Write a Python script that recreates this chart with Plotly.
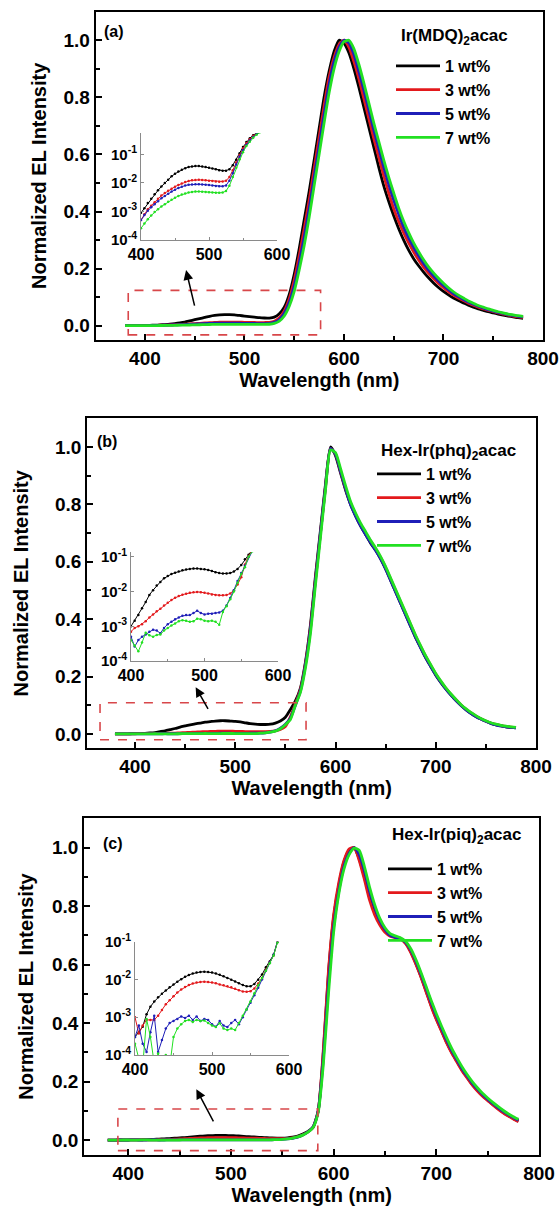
import plotly.graph_objects as go

# ---------------- data (wavelength grid, nm) ----------------
W = [380, 385, 390, 395, 400, 405, 410, 415, 420, 425, 430, 435, 440, 445, 450, 455,
     460, 465, 470, 475, 480, 485, 490, 495, 500, 505, 510, 515, 520, 525, 530, 535,
     540, 545, 550, 555, 560, 565, 570, 575, 580, 585, 590, 595, 600, 605, 610, 615,
     620, 625, 630, 635, 640, 645, 650, 655, 660, 665, 670, 675, 680, 685, 690, 695,
     700, 705, 710, 715, 720, 725, 730, 735, 740, 745, 750, 755, 760, 765, 770, 775, 780]

SERIES_NAMES = ["1 wt%", "3 wt%", "5 wt%", "7 wt%"]

# (a) Ir(MDQ)2acac
A_black = [2.0e-4, 3.0e-4, 4.5e-4, 6.5e-4,
           9.0e-4, 1.3e-3, 2.0e-3, 2.8e-3, 4.0e-3, 5.5e-3, 7.5e-3, 0.010,
           0.013, 0.017, 0.021, 0.025, 0.029, 0.033, 0.036, 0.038,
           0.039, 0.039, 0.038, 0.036, 0.034, 0.032, 0.030, 0.028,
           0.027, 0.027, 0.030, 0.042, 0.065, 0.11, 0.18, 0.27,
           0.37, 0.47, 0.58, 0.69, 0.80, 0.89, 0.96, 1.00,
           0.99, 0.955, 0.90, 0.835, 0.765, 0.695, 0.625, 0.555,
           0.49, 0.435, 0.385, 0.34, 0.30, 0.265, 0.235, 0.21,
           0.188, 0.168, 0.150, 0.134, 0.120, 0.108, 0.097, 0.088,
           0.080, 0.072, 0.065, 0.059, 0.054, 0.049, 0.045, 0.041,
           0.037, 0.034, 0.031, 0.028, 0.026]
A_red = [1.0e-4, 1.5e-4, 2.2e-4, 3.3e-4,
         5.0e-4, 8.0e-4, 1.2e-3, 1.6e-3, 2.1e-3, 2.8e-3, 3.6e-3, 4.4e-3,
         5.3e-3, 6.3e-3, 7.4e-3, 8.5e-3, 9.6e-3, 0.0107, 0.0116, 0.0123,
         0.0127, 0.0128, 0.0127, 0.0124, 0.0120, 0.0116, 0.0113, 0.0111,
         0.0112, 0.0120, 0.016, 0.028, 0.052, 0.095, 0.16, 0.245,
         0.34, 0.44, 0.55, 0.66, 0.77, 0.87, 0.94, 0.985,
         1.00, 0.975, 0.925, 0.865, 0.795, 0.725, 0.655, 0.59,
         0.525, 0.465, 0.41, 0.365, 0.325, 0.29, 0.258, 0.23,
         0.205, 0.184, 0.165, 0.148, 0.133, 0.119, 0.107, 0.097,
         0.088, 0.079, 0.072, 0.065, 0.059, 0.054, 0.049, 0.045,
         0.041, 0.037, 0.034, 0.031, 0.029]
A_blue = [1.0e-4, 1.5e-4, 2.2e-4, 3.3e-4,
          5.0e-4, 7.5e-4, 1.05e-3, 1.4e-3, 1.8e-3, 2.3e-3, 2.9e-3, 3.5e-3,
          4.2e-3, 5.0e-3, 5.8e-3, 6.6e-3, 7.4e-3, 8.1e-3, 8.6e-3, 8.9e-3,
          9.0e-3, 9.0e-3, 8.9e-3, 8.7e-3, 8.4e-3, 8.1e-3, 7.8e-3, 7.6e-3,
          7.6e-3, 8.2e-3, 0.012, 0.022, 0.044, 0.082, 0.14, 0.22,
          0.31, 0.41, 0.52, 0.63, 0.74, 0.845, 0.925, 0.975,
          1.00, 0.99, 0.95, 0.89, 0.825, 0.755, 0.685, 0.62,
          0.555, 0.495, 0.44, 0.39, 0.345, 0.308, 0.275, 0.245,
          0.218, 0.195, 0.175, 0.157, 0.141, 0.126, 0.113, 0.102,
          0.092, 0.083, 0.075, 0.068, 0.062, 0.056, 0.051, 0.047,
          0.043, 0.039, 0.036, 0.033, 0.031]
A_green = [6e-5, 9e-5, 1.3e-4, 1.9e-4,
           2.6e-4, 3.8e-4, 5.3e-4, 7.2e-4, 9.5e-4, 1.2e-3, 1.5e-3, 1.8e-3,
           2.2e-3, 2.6e-3, 3.0e-3, 3.5e-3, 3.9e-3, 4.3e-3, 4.6e-3, 4.85e-3,
           5.0e-3, 5.0e-3, 4.95e-3, 4.85e-3, 4.7e-3, 4.6e-3, 4.5e-3, 4.5e-3,
           4.6e-3, 5.2e-3, 8.0e-3, 0.016, 0.034, 0.068, 0.12, 0.195,
           0.28, 0.38, 0.49, 0.60, 0.71, 0.815, 0.90, 0.96,
           0.995, 1.00, 0.97, 0.915, 0.85, 0.78, 0.71, 0.645,
           0.58, 0.52, 0.465, 0.412, 0.366, 0.326, 0.29, 0.259,
           0.231, 0.206, 0.185, 0.166, 0.149, 0.133, 0.119, 0.107,
           0.097, 0.087, 0.079, 0.071, 0.065, 0.059, 0.054, 0.049,
           0.045, 0.041, 0.038, 0.035, 0.033]

# (b) Hex-Ir(phq)2acac
B_black = [2e-4, 3e-4, 4.5e-4, 7e-4,
           1.0e-3, 1.45e-3, 2.1e-3, 3.3e-3, 5.0e-3, 8.0e-3, 0.011, 0.015,
           0.019, 0.024, 0.028, 0.032, 0.035, 0.038, 0.041, 0.043,
           0.045, 0.046, 0.046, 0.045, 0.044, 0.042, 0.039, 0.036,
           0.034, 0.033, 0.033, 0.034, 0.038, 0.045, 0.058, 0.085,
           0.115, 0.16, 0.25, 0.38, 0.55, 0.71, 0.87, 1.00,
           0.97, 0.91, 0.85, 0.80, 0.76, 0.725, 0.695, 0.665,
           0.64, 0.61, 0.575, 0.535, 0.495, 0.455, 0.415, 0.375,
           0.335, 0.30, 0.265, 0.235, 0.205, 0.18, 0.157, 0.136,
           0.117, 0.10, 0.085, 0.072, 0.061, 0.052, 0.044, 0.037,
           0.032, 0.028, 0.025, 0.023, 0.021]
B_red = [1e-4, 1.6e-4, 2.5e-4, 4.5e-4,
         7e-4, 9e-4, 1.0e-3, 1.15e-3, 1.4e-3, 1.8e-3, 2.2e-3, 2.7e-3,
         3.2e-3, 4.0e-3, 4.8e-3, 5.7e-3, 6.6e-3, 7.4e-3, 8.1e-3, 8.7e-3,
         9.2e-3, 9.6e-3, 9.8e-3, 9.6e-3, 9.2e-3, 8.8e-3, 8.3e-3, 8.0e-3,
         7.8e-3, 7.8e-3, 8.0e-3, 8.8e-3, 0.011, 0.016, 0.026, 0.06,
         0.105, 0.155, 0.245, 0.37, 0.54, 0.70, 0.86, 0.995,
         0.975, 0.915, 0.855, 0.805, 0.765, 0.73, 0.70, 0.672,
         0.645, 0.615, 0.58, 0.54, 0.50, 0.46, 0.42, 0.38,
         0.34, 0.304, 0.27, 0.239, 0.209, 0.183, 0.16, 0.139,
         0.12, 0.102, 0.087, 0.074, 0.063, 0.053, 0.045, 0.038,
         0.033, 0.029, 0.026, 0.024, 0.022]
B_blue = [1e-4, 1.6e-4, 2.5e-4, 4e-4,
          5e-4, 2.6e-4, 4e-4, 5e-4, 5.8e-4, 7e-4, 8e-4, 7.5e-4,
          6.3e-4, 9e-4, 1.15e-3, 1.35e-3, 1.6e-3, 1.8e-3, 2.0e-3, 2.1e-3,
          2.1e-3, 2.4e-3, 2.8e-3, 2.4e-3, 2.2e-3, 2.3e-3, 2.3e-3, 2.4e-3,
          2.5e-3, 2.8e-3, 4.0e-3, 6.5e-3, 0.011, 0.02, 0.034, 0.055,
          0.10, 0.15, 0.24, 0.365, 0.535, 0.70, 0.86, 0.995,
          0.975, 0.915, 0.855, 0.80, 0.76, 0.725, 0.695, 0.667,
          0.64, 0.61, 0.575, 0.535, 0.495, 0.455, 0.415, 0.375,
          0.336, 0.30, 0.266, 0.235, 0.206, 0.18, 0.157, 0.136,
          0.117, 0.10, 0.085, 0.072, 0.061, 0.052, 0.044, 0.037,
          0.032, 0.028, 0.025, 0.023, 0.021]
B_green = [1e-4, 1.5e-4, 2.2e-4, 3e-4,
           4e-4, 2.8e-4, 1.9e-4, 3.4e-4, 6.5e-4, 5.5e-4, 5.0e-4, 5.6e-4,
           5.8e-4, 7.5e-4, 9e-4, 1.05e-3, 1.2e-3, 1.4e-3, 1.5e-3, 1.45e-3,
           1.35e-3, 1.4e-3, 1.65e-3, 1.6e-3, 1.45e-3, 1.4e-3, 1.45e-3, 1.35e-3,
           1.1e-3, 2.6e-3, 3.8e-3, 6.0e-3, 0.010, 0.018, 0.032, 0.05,
           0.10, 0.145, 0.23, 0.35, 0.52, 0.685, 0.85, 0.99,
           0.98, 0.925, 0.865, 0.81, 0.77, 0.735, 0.705, 0.675,
           0.648, 0.618, 0.583, 0.543, 0.503, 0.463, 0.423, 0.383,
           0.343, 0.307, 0.272, 0.241, 0.211, 0.185, 0.161, 0.14,
           0.121, 0.103, 0.088, 0.075, 0.064, 0.054, 0.046, 0.039,
           0.034, 0.030, 0.027, 0.025, 0.023]

# (c) Hex-Ir(piq)2acac
C_black = [1e-4, 1.3e-4, 1.7e-4, 2.3e-4,
           3e-4, 4e-4, 5.6e-4, 1.2e-3, 1.9e-3, 2.6e-3, 3.4e-3, 4.2e-3,
           5.1e-3, 6.2e-3, 7.4e-3, 8.7e-3, 0.0102, 0.0118, 0.0132, 0.0143,
           0.0152, 0.0158, 0.016, 0.0158, 0.0152, 0.0144, 0.0133, 0.0121,
           0.011, 0.0099, 0.0088, 0.0079, 0.0071, 0.0066, 0.0066, 0.0076,
           0.0098, 0.0135, 0.021, 0.030, 0.045, 0.10, 0.30, 0.57,
           0.76, 0.87, 0.95, 0.99, 1.00, 0.96, 0.90, 0.83,
           0.78, 0.74, 0.715, 0.70, 0.695, 0.69, 0.675, 0.645,
           0.605, 0.56, 0.51, 0.46, 0.415, 0.375, 0.335, 0.30,
           0.27, 0.24, 0.215, 0.19, 0.17, 0.152, 0.137, 0.122,
           0.108, 0.095, 0.084, 0.074, 0.065]
C_red = [1e-4, 1.4e-4, 2e-4, 3.5e-4,
         1.0e-3, 3.7e-4, 6e-4, 8.5e-4, 8.5e-4, 8.5e-4, 1.1e-3, 1.55e-3,
         2.2e-3, 2.8e-3, 3.6e-3, 4.5e-3, 5.4e-3, 6.3e-3, 7.1e-3, 7.8e-3,
         8.3e-3, 8.6e-3, 8.7e-3, 8.6e-3, 8.3e-3, 7.9e-3, 7.4e-3, 7.0e-3,
         6.6e-3, 6.2e-3, 5.7e-3, 5.2e-3, 4.8e-3, 4.7e-3, 4.9e-3, 5.8e-3,
         7.8e-3, 0.011, 0.018, 0.028, 0.043, 0.10, 0.31, 0.58,
         0.77, 0.88, 0.955, 0.995, 1.00, 0.955, 0.89, 0.82,
         0.77, 0.735, 0.71, 0.697, 0.692, 0.687, 0.672, 0.642,
         0.602, 0.557, 0.507, 0.457, 0.412, 0.372, 0.332, 0.297,
         0.267, 0.237, 0.212, 0.188, 0.168, 0.150, 0.135, 0.12,
         0.106, 0.093, 0.082, 0.072, 0.063]
C_blue = [1e-4, 1.5e-4, 2e-4, 2.5e-4,
          3e-4, 6e-4, 2.0e-4, 1.2e-4, 4e-4, 1.1e-3, 1.2e-4, 2.5e-4,
          5e-4, 7e-4, 8e-4, 9e-4, 1.05e-3, 9.5e-4, 1.1e-3, 8.5e-4,
          1.05e-3, 8e-4, 9e-4, 8.5e-4, 6.5e-4, 5.6e-4, 7.9e-4, 6e-4,
          5.5e-4, 7e-4, 8.5e-4, 6.5e-4, 1.0e-3, 1.6e-3, 2.4e-3, 3.8e-3,
          6e-3, 0.010, 0.017, 0.028, 0.045, 0.10, 0.28, 0.53,
          0.73, 0.85, 0.935, 0.98, 1.00, 0.975, 0.92, 0.85,
          0.795, 0.75, 0.72, 0.70, 0.693, 0.688, 0.676, 0.65,
          0.612, 0.568, 0.52, 0.47, 0.425, 0.383, 0.342, 0.306,
          0.275, 0.245, 0.219, 0.195, 0.174, 0.156, 0.14, 0.125,
          0.111, 0.098, 0.087, 0.077, 0.068]
C_green = [1e-4, 1.3e-4, 1.6e-4, 1.8e-4,
           2e-4, 8e-5, 5e-5, 9e-4, 3e-4, 6e-5, 1.1e-4, 6e-5,
           1.0e-4, 5e-5, 3e-4, 5e-4, 6.5e-4, 8e-4, 8.5e-4, 7.5e-4,
           8.5e-4, 8e-4, 8.2e-4, 7e-4, 6e-4, 5.5e-4, 6.9e-4, 5e-4,
           4.6e-4, 5e-4, 4.6e-4, 7e-4, 1.1e-3, 1.6e-3, 2.6e-3, 4.3e-3,
           7e-3, 0.011, 0.017, 0.027, 0.043, 0.095, 0.26, 0.50,
           0.71, 0.84, 0.925, 0.975, 0.998, 0.99, 0.935, 0.865,
           0.805, 0.758, 0.726, 0.706, 0.698, 0.692, 0.68, 0.655,
           0.618, 0.574, 0.526, 0.477, 0.432, 0.39, 0.35, 0.313,
           0.281, 0.251, 0.224, 0.2, 0.179, 0.16, 0.144, 0.129,
           0.115, 0.102, 0.09, 0.08, 0.071]

MAIN_XTICKS = [400, 500, 600, 700, 800]
INSET_XTICKS = [400, 500, 600]
INSET_YTICKS = [1e-4, 1e-3, 1e-2, 1e-1]
INSET_YTICKTEXT = ["10<sup>-4</sup>", "10<sup>-3</sup>", "10<sup>-2</sup>", "10<sup>-1</sup>"]

# ---------------- layout helpers ----------------
FW, FH = 560, 1209
COLORS = ["#000000", "#e3191c", "#1f1fb8", "#22e022"]
FONT = "Liberation Sans, Arial, sans-serif"


def fx(p):
    return p / FW


def fy(p):
    return 1 - p / FH


panels = [
    dict(label="(a)", ltitle="Ir(MDQ)<sub>2</sub>acac",
         data=[A_black, A_red, A_blue, A_green],
         frame=(95.7, 543.0, 11.7, 340.0), xr=[350.5, 800],
         inset=(141, 277, 133, 240), iyr=[-4, -0.25],
         box=(383.2, 576.5, -0.032, 0.124), arrow=(441.3, 0.195, 450.2, 0.065),
         legend=(391, 49), ltpos=(399, 37), ystand=11, lab=(114, 31.7)),
    dict(label="(b)", ltitle="Hex-Ir(phq)<sub>2</sub>acac",
         data=[B_black, B_red, B_blue, B_green],
         frame=(87.3, 536.0, 418.3, 748.3), xr=[352.4, 800],
         inset=(131, 278, 552, 661), iyr=[-4, -0.86],
         box=(365.1, 570.6, -0.020, 0.1085), arrow=(460.5, 0.163, 473.7, 0.082),
         legend=(372, 457), ltpos=(379, 451.7), ystand=21, lab=(107, 441.7)),
    dict(label="(c)", ltitle="Hex-Ir(piq)<sub>2</sub>acac",
         data=[C_black, C_red, C_blue, C_green],
         frame=(84.3, 539.0, 818.3, 1154.7), xr=[357.2, 800],
         inset=(135, 289, 941.7, 1055), iyr=[-4, -1],
         box=(389.9, 584.6, -0.036, 0.106), arrow=(466.3, 0.174, 483.7, 0.059),
         legend=(383, 852), ltpos=(390, 836), ystand=13, lab=(112.5, 843.3)),
]

fig = go.Figure()
layout = dict(template="none", width=FW, height=FH,
              margin=dict(l=0, r=0, t=0, b=0, autoexpand=False),
              paper_bgcolor="white", plot_bgcolor="white",
              font=dict(family=FONT, color="black"), showlegend=True)
shapes, annotations = [], []

for k, p in enumerate(panels):
    mi = 2 * k + 1      # main axis index
    ii = 2 * k + 2      # inset axis index
    mx = "x" if mi == 1 else f"x{mi}"
    my = "y" if mi == 1 else f"y{mi}"
    ix, iy = f"x{ii}", f"y{ii}"
    leg = "legend" if k == 0 else f"legend{k + 1}"

    # main spectra
    for vals, name, col in zip(p["data"], SERIES_NAMES, COLORS):
        fig.add_trace(go.Scatter(x=W, y=vals, name=name, mode="lines",
                                 line=dict(color=col, width=2.8, shape="spline", smoothing=0.6),
                                 xaxis=mx, yaxis=my, legend=leg, showlegend=True,
                                 hoverinfo="skip"))
    # inset (log scale, 400-600 nm)
    for vals, name, col in zip(p["data"], SERIES_NAMES, COLORS):
        fig.add_trace(go.Scatter(x=W[4:45], y=vals[4:45], name=name, mode="lines+markers",
                                 line=dict(color=col, width=1),
                                 marker=dict(color=col, size=2.5),
                                 xaxis=ix, yaxis=iy, showlegend=False, hoverinfo="skip"))

    l, r, t, b = p["frame"]
    axis_common = dict(showline=True, linecolor="black", linewidth=2.2, mirror=True,
                       ticks="inside", tickwidth=1.6, ticklen=6, tickcolor="black",
                       showgrid=False, zeroline=False, automargin=False,
                       tickfont=dict(family=FONT, size=19, weight="bold"))
    layout["xaxis" if mi == 1 else f"xaxis{mi}"] = dict(
        axis_common, domain=[fx(l), fx(r)], range=p["xr"], anchor=my,
        tickvals=MAIN_XTICKS,
        minor=dict(tickvals=[450, 550, 650, 750], ticks="inside", ticklen=4,
                   tickwidth=1.6, tickcolor="black"),
        title=dict(text="Wavelength (nm)", standoff=0,
                   font=dict(family=FONT, size=20, weight="bold")))
    layout["yaxis" if mi == 1 else f"yaxis{mi}"] = dict(
        axis_common, domain=[fy(b), fy(t)], range=[-0.05, 1.1], anchor=mx,
        tickvals=[0.0, 0.2, 0.4, 0.6, 0.8, 1.0], tickformat=".1f",
        minor=dict(tickvals=[0.1, 0.3, 0.5, 0.7, 0.9], ticks="inside", ticklen=4,
                   tickwidth=1.6, tickcolor="black"),
        title=dict(text="Normalized EL Intensity", standoff=p["ystand"],
                   font=dict(family=FONT, size=20, weight="bold")))

    il, ir, it, ib = p["inset"]
    inset_common = dict(showline=True, linecolor="#8a8a8a", linewidth=1, mirror=False,
                        ticks="inside", ticklen=3, tickcolor="#8a8a8a", tickwidth=1,
                        showgrid=False, zeroline=False, automargin=False)
    layout[f"xaxis{ii}"] = dict(inset_common, domain=[fx(il), fx(ir)], range=[400, 600],
                                anchor=iy, tickvals=INSET_XTICKS,
                                minor=dict(tickvals=[450, 550], ticks="inside", ticklen=2,
                                           tickcolor="#8a8a8a"),
                                tickfont=dict(family=FONT, size=16, weight="bold"))
    layout[f"yaxis{ii}"] = dict(inset_common, domain=[fy(ib), fy(it)], type="log",
                                range=p["iyr"], anchor=ix, tickvals=INSET_YTICKS,
                                ticktext=INSET_YTICKTEXT,
                                tickfont=dict(family=FONT, size=15, weight="bold"))

    # legend (its heading is drawn as an annotation just above it)
    lx, ly = p["legend"]
    layout[leg] = dict(x=fx(lx), y=fy(ly), xanchor="left", yanchor="top",
                       bgcolor="rgba(0,0,0,0)", borderwidth=0, itemwidth=44,
                       tracegroupgap=0,
                       font=dict(family=FONT, size=16, weight="bold"))
    tx_, ty_ = p["ltpos"]
    annotations.append(dict(x=fx(tx_), y=fy(ty_), xref="paper", yref="paper",
                            xanchor="left", yanchor="middle", showarrow=False,
                            text="<b>" + p["ltitle"] + "</b>",
                            font=dict(family=FONT, size=17, color="black")))

    # dashed zoom box
    x0, x1, y0, y1 = p["box"]
    shapes.append(dict(type="rect", xref=mx, yref=my, x0=x0, x1=x1, y0=y0, y1=y1,
                       line=dict(color="#d8474a", width=1.6, dash="dash")))
    # arrow to inset
    hx, hy, tx, ty = p["arrow"]
    annotations.append(dict(x=hx, y=hy, ax=tx, ay=ty, xref=mx, yref=my, axref=mx, ayref=my,
                            showarrow=True, arrowhead=2, arrowsize=1.3, arrowwidth=1.5,
                            arrowcolor="black", text=""))
    # panel label
    lbx, lby = p["lab"]
    annotations.append(dict(x=fx(lbx), y=fy(lby), xref="paper", yref="paper",
                            xanchor="center", yanchor="middle",
                            text="<b>" + p["label"] + "</b>", showarrow=False,
                            font=dict(family=FONT, size=16, color="black")))

layout["shapes"] = shapes
layout["annotations"] = annotations
fig.update_layout(**layout)
fig.write_html("out.html", config={"displayModeBar": False},
               post_script="document.body.style.margin='0';document.body.style.padding='0';")
